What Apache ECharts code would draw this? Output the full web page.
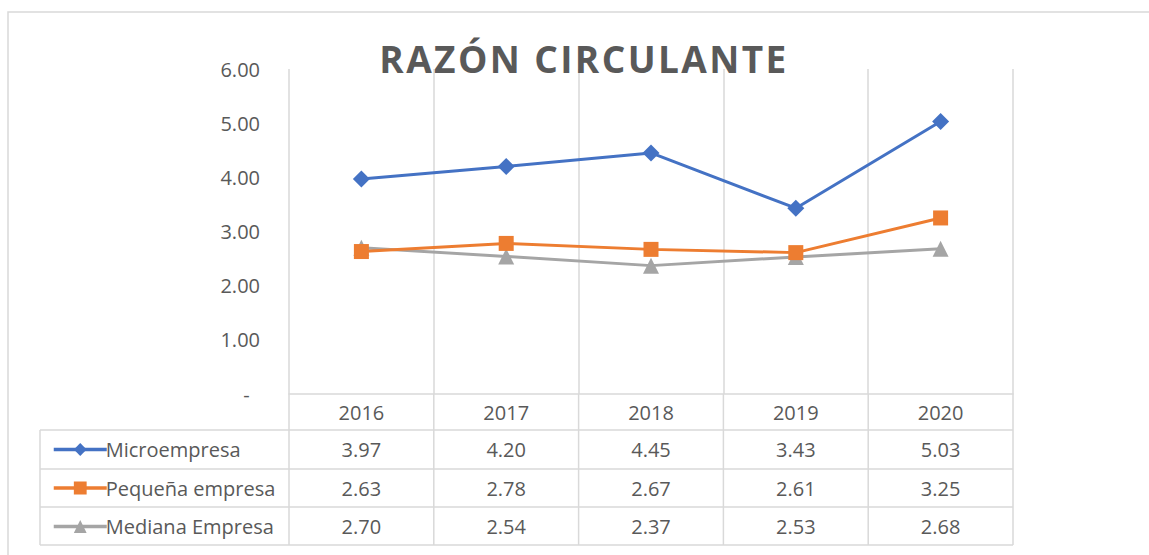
<!DOCTYPE html>
<html>
<head>
<meta charset="utf-8">
<script src="https://cdn.jsdelivr.net/npm/echarts@6/dist/echarts.min.js"></script>
<style>
html,body{margin:0;padding:0;background:#fff;}
#c{width:1149px;height:555px;}
#c text[style*="bold"]{letter-spacing:2.4px;}
</style>
</head>
<body>
<div id="c"></div>
<script>
const titleText = 'RAZÓN CIRCULANTE';
const years = ['2016', '2017', '2018', '2019', '2020'];
const seriesNames = ['Microempresa', 'Pequeña empresa', 'Mediana Empresa'];
const micro = [3.97, 4.20, 4.45, 3.43, 5.03];
const pequena = [2.63, 2.78, 2.67, 2.61, 3.25];
const mediana = [2.70, 2.54, 2.37, 2.53, 2.68];
const yMin = 0, yMax = 6, yStep = 1;

const allData = [micro, pequena, mediana];
const colors = ['#4472C4', '#ED7D31', '#A5A5A5'];
const symbols = ['diamond', 'rect', 'triangle'];
const symbolSizes = [17, 15, 16];
const txt = '#595959';
const gridCol = '#D9D9D9';
const FONT = '"Open Sans", "Noto Sans", sans-serif';

const chart = echarts.init(document.getElementById('c'), null, {renderer: 'svg'});

const series = seriesNames.map((n, i) => ({
  name: n,
  type: 'line',
  data: allData[i],
  symbol: symbols[i],
  symbolSize: symbolSizes[i],
  lineStyle: {color: colors[i], width: 3},
  itemStyle: {color: colors[i]},
  z: 10 - i
}));

chart.setOption({
  animation: false,
  textStyle: {fontFamily: FONT},
  grid: {left: 289, right: 136, top: 69, bottom: 161},
  xAxis: {
    type: 'category',
    data: years,
    boundaryGap: true,
    axisLine: {show: true, lineStyle: {color: gridCol, width: 1.5}},
    axisTick: {show: false},
    splitLine: {show: true, lineStyle: {color: gridCol, width: 1.5}},
    axisLabel: {color: txt, fontSize: 20, margin: 8, fontFamily: FONT}
  },
  yAxis: {
    type: 'value',
    min: yMin, max: yMax, interval: yStep,
    axisLine: {show: false},
    axisTick: {show: false},
    splitLine: {show: false},
    axisLabel: {
      color: txt, fontSize: 20, margin: 29, fontFamily: FONT,
      formatter: v => v === 0 ? '-  ' : v.toFixed(2)
    }
  },
  legend: {
    show: true,
    orient: 'vertical',
    left: 47, top: 434,
    itemWidth: 53, itemHeight: 16,
    itemGap: 17.5,
    lineStyle: {width: 3.5},
    textStyle: {color: txt, fontSize: 20, lineHeight: 21, fontFamily: FONT, padding: [0, 0, 0, -6]},
    data: seriesNames
  },
  series: series
});

function buildGraphics() {
  const cx = years.map((y, i) => chart.convertToPixel({xAxisIndex: 0}, y));
  const half = (cx[1] - cx[0]) / 2;
  const bounds = [cx[0] - half].concat(cx.map(c => c + half));
  const axisY = 394;
  const rowYs = [430, 469, 507, 545];
  const tableLeft = 40;
  const els = [];
  const ls = {stroke: gridCol, lineWidth: 1.5};
  els.push({type: 'rect', shape: {x: 8, y: 12, width: 1200, height: 600}, style: {fill: null, stroke: gridCol, lineWidth: 1.5}, silent: true});
  bounds.forEach(b => {
    els.push({type: 'line', shape: {x1: b, y1: axisY, x2: b, y2: rowYs[3]}, style: ls, silent: true});
  });
  els.push({type: 'line', shape: {x1: tableLeft, y1: rowYs[0], x2: tableLeft, y2: rowYs[3]}, style: ls, silent: true});
  rowYs.forEach(y => {
    els.push({type: 'line', shape: {x1: tableLeft, y1: y, x2: bounds[bounds.length - 1], y2: y}, style: ls, silent: true});
  });
  allData.forEach((arr, r) => {
    const yc = (rowYs[r] + rowYs[r + 1]) / 2;
    arr.forEach((v, i) => {
      els.push({type: 'text', x: cx[i], y: yc, style: {text: v.toFixed(2), fill: txt, font: '20px ' + FONT, textAlign: 'center', textVerticalAlign: 'middle'}, silent: true});
    });
  });
  els.push({type: 'text', x: 584, y: 58, style: {text: titleText, fill: txt, font: 'bold 37px ' + FONT, textAlign: 'center', textVerticalAlign: 'middle'}, silent: true, z: 100});
  chart.setOption({graphic: {elements: els}});
}
buildGraphics();
</script>
</body>
</html>
